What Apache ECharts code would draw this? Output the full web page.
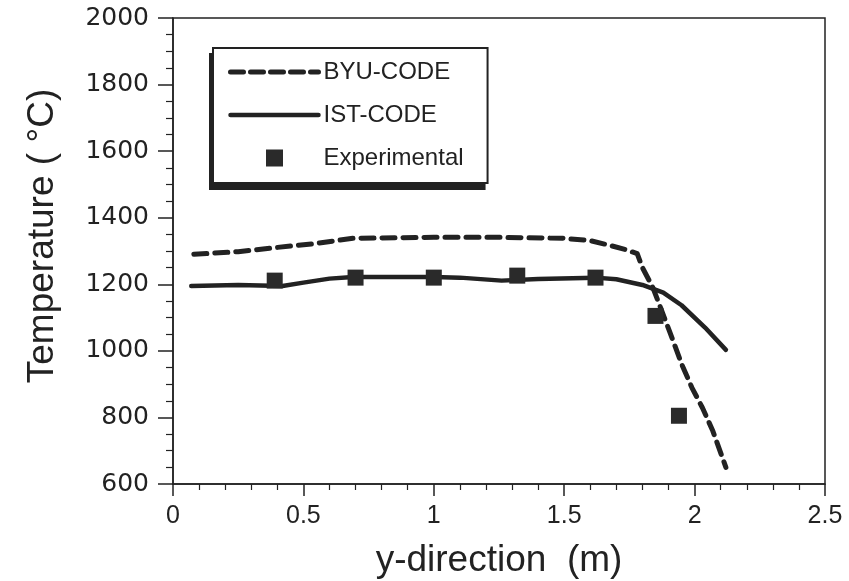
<!DOCTYPE html>
<html>
<head>
<meta charset="utf-8">
<script src="https://cdn.jsdelivr.net/npm/echarts@6/dist/echarts.min.js"></script>
<style>
  html, body { margin: 0; padding: 0; background: #fff; }
  #chart { width: 849px; height: 581px; }
</style>
</head>
<body>
<div id="chart"></div>
<script>
// temperature profile along y-direction: two codes vs. measurements

var byuX = [0.08, 0.25, 0.39, 0.54, 0.69, 1.0, 1.26, 1.5, 1.6, 1.68, 1.74, 1.78, 1.80, 1.84, 1.90, 1.95, 1.99, 2.03, 2.07, 2.12];
var byuT = [1290, 1298, 1310, 1322, 1338, 1341, 1341, 1338, 1331, 1316, 1303, 1292, 1250, 1190, 1067, 961, 889, 829, 759, 650];

var istX = [0.07, 0.25, 0.42, 0.5, 0.6, 0.69, 1.0, 1.1, 1.26, 1.4, 1.62, 1.7, 1.8, 1.88, 1.95, 2.04, 2.12];
var istT = [1195, 1198, 1195, 1205, 1217, 1222, 1222, 1220, 1211, 1216, 1220, 1215, 1198, 1175, 1137, 1070, 1003];

var expX = [0.39, 0.70, 1.0, 1.32, 1.62, 1.85, 1.94];
var expT = [1211, 1220, 1220, 1226, 1220, 1105, 805];

var seriesNames = ['BYU-CODE', 'IST-CODE', 'Experimental'];

function pairs(xs, ys) {
  var out = [];
  for (var i = 0; i < xs.length; i++) out.push([xs[i], ys[i]]);
  return out;
}

var ink = '#222';
// square legend icon: tiny corner segments keep the 88x18 box so the square is not stretched
var squareIcon = 'path://M0,0L0.01,0M88,18L87.99,18M35.5,0.5H52.5V17.5H35.5Z';

var chart = echarts.init(document.getElementById('chart'));

chart.setOption({
  animation: false,
  backgroundColor: '#fff',
  grid: {
    left: 173, top: 18, width: 652, height: 466,
    outerBoundsMode: 'none',
    show: true, borderColor: ink, borderWidth: 1.5, backgroundColor: 'transparent'
  },
  legend: {
    data: [
      { name: seriesNames[0], itemStyle: { opacity: 0 }, lineStyle: { width: 5, type: [13, 7] } },
      { name: seriesNames[1], itemStyle: { opacity: 0 }, lineStyle: { width: 4.5 } },
      { name: seriesNames[2], icon: squareIcon }
    ],
    orient: 'vertical',
    left: 213, top: 48,
    padding: [12, 24, 13, 15],
    itemWidth: 88, itemHeight: 18, itemGap: 19,
    backgroundColor: '#fff',
    borderColor: ink, borderWidth: 2, borderRadius: 0,
    z: 10,
    textStyle: { fontFamily: 'Liberation Sans', fontSize: 24, color: ink }
  },
  xAxis: {
    type: 'value', min: 0, max: 2.5, interval: 0.5,
    name: 'y-direction  (m)', nameLocation: 'middle', nameGap: 58,
    nameTextStyle: { fontFamily: 'Liberation Sans', fontSize: 37, color: ink },
    axisLine: { lineStyle: { color: ink, width: 1.5 } },
    axisTick: { length: 12, lineStyle: { color: ink, width: 1.5 } },
    minorTick: { show: true, splitNumber: 5, length: 6, lineStyle: { color: ink, width: 1.2 } },
    axisLabel: { margin: 20, fontFamily: 'Liberation Sans', fontSize: 25, color: ink },
    splitLine: { show: false }
  },
  yAxis: {
    type: 'value', min: 600, max: 2000, interval: 200,
    name: 'Temperature ( °C)', nameLocation: 'middle', nameGap: 112,
    nameTextStyle: { fontFamily: 'Liberation Sans', fontSize: 37, color: ink, padding: [0, 0, 0, 30] },
    axisLine: { lineStyle: { color: ink, width: 1.5 } },
    axisTick: { length: 15, lineStyle: { color: ink, width: 1.5 } },
    minorTick: { show: true, splitNumber: 4, length: 7, lineStyle: { color: ink, width: 1.2 } },
    axisLabel: {
      margin: 24, fontFamily: 'DejaVu Sans', fontSize: 25, color: ink,
      formatter: function (v) { return String(v); }
    },
    splitLine: { show: false }
  },
  series: [
    {
      name: seriesNames[0], type: 'line', symbol: 'none',
      data: pairs(byuX, byuT),
      lineStyle: { color: ink, width: 5, type: [13, 8], cap: 'round', join: 'round' },
      itemStyle: { color: ink }
    },
    {
      name: seriesNames[1], type: 'line', symbol: 'none',
      data: pairs(istX, istT),
      lineStyle: { color: ink, width: 4.5, cap: 'round', join: 'round' },
      itemStyle: { color: ink }
    },
    {
      name: seriesNames[2], type: 'scatter', symbol: 'rect', symbolSize: 16,
      data: pairs(expX, expT),
      itemStyle: { color: '#2a2a2a', opacity: 1 },
      z: 3
    }
  ]
});

// drop shadow under the legend box (down-left), sized from the rendered legend
var legendView = chart.getViewOfComponentModel(chart.getModel().getComponent('legend'));
if (legendView) {
  var g = legendView.group;
  var r = g.getBoundingRect();
  chart.setOption({
    graphic: [{
      type: 'rect', z: 9, silent: true,
      shape: { x: g.x + r.x - 3, y: g.y + r.y + 6, width: r.width, height: r.height },
      style: { fill: ink }
    }]
  });
}
</script>
</body>
</html>
